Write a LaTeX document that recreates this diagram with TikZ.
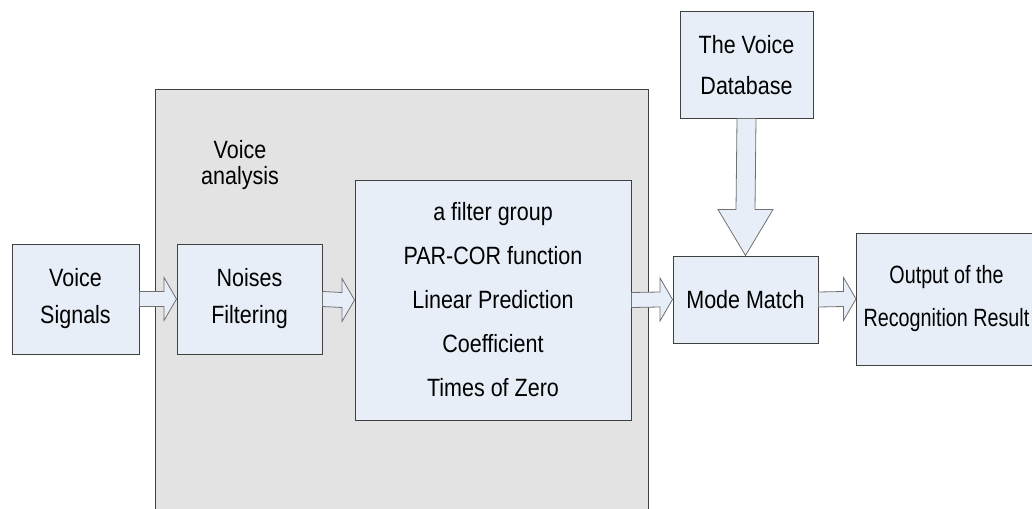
\documentclass[tikz,border=0pt]{standalone}
\usepackage{fontspec}
\setmainfont{Liberation Sans}[FakeStretch=0.86]
\newfontfamily\narrowfont{Liberation Sans}[FakeStretch=0.79]
\usetikzlibrary{calc}
\definecolor{boxfill}{HTML}{E8EEF8}
\definecolor{grayfill}{HTML}{E3E3E3}
\definecolor{edge}{HTML}{404040}
\definecolor{arrowedge}{HTML}{707070}
\tikzset{
  blk/.style={draw=edge, line width=1pt, fill=boxfill, rectangle, align=center,
    inner sep=0pt, font=\fontsize{25}{37}\selectfont},
  blockarrow/.style={draw=arrowedge, line width=0.8pt, fill=boxfill, line join=miter},
}
\begin{document}
\begin{tikzpicture}[x=1pt,y=-1pt]
\useasboundingbox (0,0) rectangle (1032,508);
% Voice analysis region
\node[draw=edge, line width=1.2pt, fill=grayfill, rectangle, inner sep=0pt,
  minimum width=493pt, minimum height=425pt, anchor=north west] (va) at (155,89) {};
\node[font=\fontsize{25}{26}\selectfont, align=center] (valabel) at (240,165) {Voice\\analysis};
% blocks
\node[blk, minimum width=127pt, minimum height=110pt] (vs) at (75.5,299) {Voice\\Signals};
\node[blk, minimum width=145pt, minimum height=110pt] (nf) at (249.5,299) {Noises\\Filtering};
\node[blk, minimum width=276pt, minimum height=240pt, font=\fontsize{25}{44}\selectfont] (fg) at (493,300)
  {a filter group\\PAR-COR function\\Linear Prediction\\Coefficient\\Times of Zero};
\node[blk, minimum width=145pt, minimum height=87pt] (mm) at (745.5,299.5) {Mode Match};
\node[blk, minimum width=133pt, minimum height=106pt, font=\fontsize{25}{41}\selectfont] (db) at (746.5,65) {The Voice\\Database};
\node[blk, minimum width=180pt, minimum height=132pt, anchor=west, font=\narrowfont\fontsize{25}{43}\selectfont] (out) at (856,299) {Output of the\\Recognition Result};
% horizontal block arrows
\foreach \a/\b in {vs/nf, nf/fg, fg/mm, mm/out}{
  \draw[blockarrow]
    ($(\a.east)+(0,-7.5)$) -- ($(\b.west)+(-12.5,-7.5)$) -- ($(\b.west)+(-12.5,-21.5)$)
    -- (\b.west) -- ($(\b.west)+(-12.5,21.5)$) -- ($(\b.west)+(-12.5,7.5)$)
    -- ($(\a.east)+(0,7.5)$) -- cycle;
}
% vertical block arrow
\draw[blockarrow]
  ($(db.south)+(-9.5,0)$) -- ($(mm.north)+(-9.5,-46)$) -- ($(mm.north)+(-27.5,-46)$)
  -- (mm.north) -- ($(mm.north)+(27.5,-46)$) -- ($(mm.north)+(9.5,-46)$)
  -- ($(db.south)+(9.5,0)$) -- cycle;
\end{tikzpicture}
\end{document}
